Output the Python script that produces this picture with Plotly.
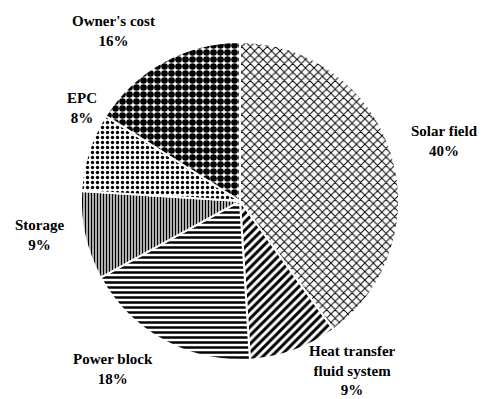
import plotly.graph_objects as go

# Cost breakdown shares (%)
categories = ["Solar field", "Heat transfer<br>fluid system", "Power block", "Storage", "EPC", "Owner's cost"]
shares = [40, 9, 18, 9, 8, 16]
patterns = ["x", "/", "-", "|", ".", "."]
pattern_sizes = [6, 6, 5, 3, 5, 7]
pattern_solidity = [0.3, 0.5, 0.5, 0.55, 0.35, 0.7]

# caption centres (paper coordinates)
label_x = [0.921, 0.729, 0.234, 0.081, 0.17, 0.236]
label_y = [0.646, 0.072, 0.075, 0.412, 0.73, 0.922]

fig = go.Figure(
    go.Pie(
        labels=categories,
        values=shares,
        sort=False,
        direction="clockwise",
        rotation=0,
        textinfo="none",
        hoverinfo="label+percent",
        marker=dict(
            colors=["white"] * len(shares),
            line=dict(color="white", width=2),
            pattern=dict(
                shape=patterns,
                fgcolor="black",
                bgcolor="white",
                fgopacity=1,
                size=pattern_sizes,
                solidity=pattern_solidity,
                fillmode="replace",
            ),
        ),
        domain=dict(x=[0.1656, 0.828], y=[0.0977, 0.8947]),
        showlegend=False,
    )
)

total = sum(shares)
for name, v, x, y in zip(categories, shares, label_x, label_y):
    fig.add_annotation(
        x=x, y=y, xref="paper", yref="paper",
        xanchor="center", yanchor="middle",
        text=f"{name}<br>{round(100 * v / total)}%",
        showarrow=False,
        font=dict(family="Liberation Serif", size=15, color="black", weight="bold"),
        align="center",
    )

fig.update_layout(
    width=483, height=399,
    margin=dict(l=0, r=0, t=0, b=0),
    paper_bgcolor="white",
    plot_bgcolor="white",
)

fig.write_html("out.html")
